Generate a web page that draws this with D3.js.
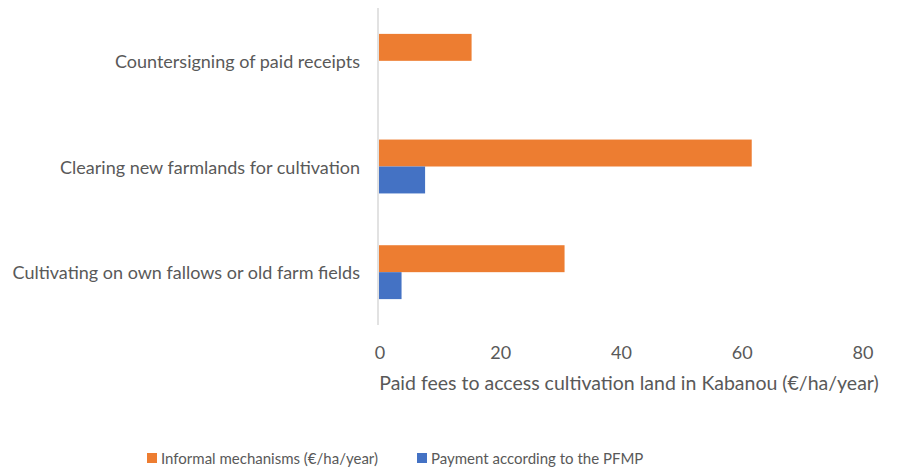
<!DOCTYPE html>
<html>
<head>
<meta charset="utf-8">
<script src="https://cdn.jsdelivr.net/npm/d3@7"></script>
<style>
  body { margin: 0; background: #fff; }
  text { font-family: Lato, "Open Sans", sans-serif; fill: #595959; }
</style>
</head>
<body>
<svg id="chart" width="900" height="472"></svg>
<script>
// Categories (top to bottom)
const categories = [
	"Countersigning of paid receipts",
	"Clearing new farmlands for cultivation",
	"Cultivating on own fallows or old farm fields"
];
// Series values (€/ha/year)
const informal = [15.5, 61.9, 30.9];
const pfmp = [0, 7.8, 3.9];
const seriesNames = ["Informal mechanisms (€/ha/year)", "Payment according to the PFMP"];
const seriesColors = ["#ED7D31", "#4472C4"];
const xTicks = [0, 20, 40, 60, 80];
const xTitle = "Paid fees to access cultivation land in Kabanou (€/ha/year)";

// Draw chart
const svg = d3.select("#chart");
const margin = {left: 378, right: 39, top: 8, bottom: 147};
const width = 900, height = 472;

const x = d3.scaleLinear()
	.domain([0, 80])
	.range([margin.left, width - margin.right]);

const y = d3.scaleBand()
	.domain(categories)
	.range([margin.top, height - margin.bottom])
	.paddingInner(0.49)
	.paddingOuter(0.245);

const sub = d3.scaleBand()
	.domain([0, 1])
	.range([0, y.bandwidth()]);

// Bars
const data = categories.map((c, i) => ({cat: c, vals: [informal[i], pfmp[i]]}));
const groups = svg.append("g")
	.selectAll("g")
	.data(data)
	.join("g")
	.attr("transform", d => `translate(0,${y(d.cat)})`);

groups.selectAll("rect")
	.data(d => d.vals.map((v, k) => ({v, k})).filter(e => e.v > 0))
	.join("rect")
	.attr("x", x(0) + 1)
	.attr("y", d => sub(d.k))
	.attr("width", d => x(d.v) - x(0) - 1)
	.attr("height", sub.bandwidth())
	.attr("fill", d => seriesColors[d.k]);

// Vertical axis line
svg.append("line")
	.attr("x1", x(0)).attr("x2", x(0))
	.attr("y1", margin.top).attr("y2", height - margin.bottom)
	.attr("stroke", "#D9D9D9")
	.attr("stroke-width", 1.5);

// Category labels
svg.append("g")
	.selectAll("text")
	.data(categories)
	.join("text")
	.attr("x", 360)
	.attr("y", d => y(d) + y.bandwidth() / 2)
	.attr("text-anchor", "end")
	.attr("dominant-baseline", "central")
	.style("font-size", "18px")
	.text(d => d);

// X tick labels
svg.append("g")
	.selectAll("text")
	.data(xTicks)
	.join("text")
	.attr("x", d => x(d) + 2)
	.attr("y", 352)
	.attr("text-anchor", "middle")
	.attr("dominant-baseline", "central")
	.style("font-size", "18px")
	.text(d => d);

// X axis title
svg.append("text")
	.attr("x", 629)
	.attr("y", 382)
	.attr("text-anchor", "middle")
	.attr("dominant-baseline", "central")
	.style("font-size", "19.5px")
	.text(xTitle);

// Legend
const legendX = [147, 417];
const legend = svg.append("g")
	.selectAll("g")
	.data(seriesNames)
	.join("g")
	.attr("transform", (d, i) => `translate(${legendX[i]},458)`);

legend.append("rect")
	.attr("x", 0).attr("y", -5)
	.attr("width", 10).attr("height", 10)
	.attr("fill", (d, i) => seriesColors[i]);

legend.append("text")
	.attr("x", 14)
	.attr("y", 0)
	.attr("dominant-baseline", "central")
	.style("font-size", "15px")
	.text(d => d);
</script>
</body>
</html>
